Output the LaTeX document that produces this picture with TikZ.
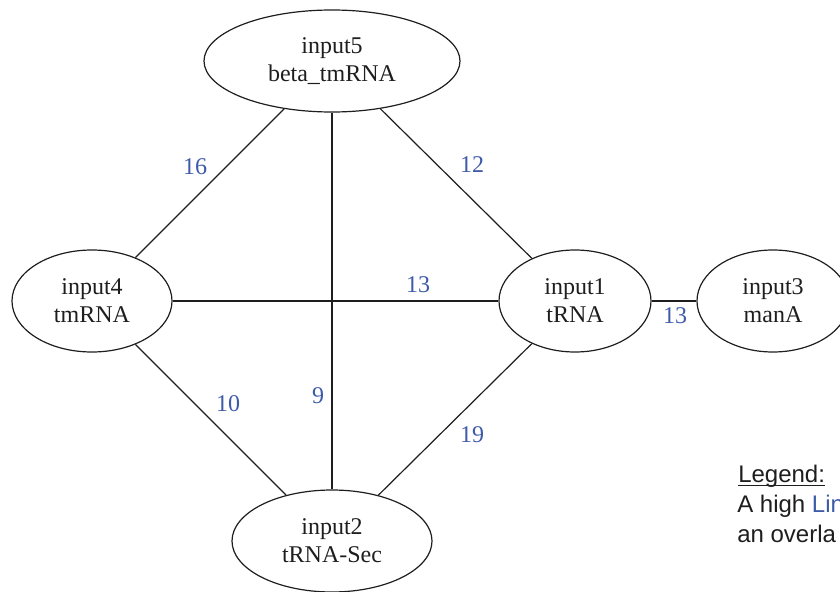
\documentclass[tikz,border=0pt]{standalone}
\usepackage{fontspec}
\setmainfont{Liberation Serif}
\newfontfamily\legendfont{Liberation Sans}
\usetikzlibrary{shapes.geometric}
\definecolor{lblblue}{RGB}{61,91,169}
\definecolor{ink}{RGB}{30,30,30}
\newcommand{\legul}[1]{\tikz[baseline=(w.base)]{\node[inner sep=0pt] (w) {#1};\draw[ink,line width=1.1pt] ([yshift=-2.2pt]w.base west) -- ([yshift=-2.2pt]w.base east);}}
\begin{document}
\begin{tikzpicture}[x=0.75pt,y=-0.75pt,
  nd/.style={ellipse,draw=ink,line width=0.9pt,inner sep=0pt,align=center,
    font=\fontsize{18pt}{21pt}\selectfont,text=ink},
  edge/.style={draw=ink,line width=0.9pt},
  lbl/.style={text=lblblue,font=\fontsize{18pt}{21pt}\selectfont,inner sep=0pt}]
\useasboundingbox (0,0) rectangle (840,592);
\clip (0,0) rectangle (840,592);
\node[nd,minimum width=256*0.75pt,minimum height=102*0.75pt] (n5) at (332,61) {input5\\beta\_tmRNA};
\node[nd,minimum width=160*0.75pt,minimum height=102*0.75pt] (n4) at (92,301) {input4\\tmRNA};
\node[nd,minimum width=152*0.75pt,minimum height=102*0.75pt] (n1) at (575,301) {input1\\tRNA};
\node[nd,minimum width=152*0.75pt,minimum height=102*0.75pt] (n3) at (773,301) {input3\\manA};
\node[nd,minimum width=200*0.75pt,minimum height=102*0.75pt] (n2) at (332,541) {input2\\tRNA-Sec};
\draw[edge] (n5) -- (n4);
\draw[edge] (n5) -- (n1);
\draw[edge] (n5) -- (n2);
\draw[edge] (n4) -- (n1);
\draw[edge] (n4) -- (n2);
\draw[edge] (n1) -- (n2);
\draw[edge] (n1) -- (n3);
\node[lbl] (l16) at (195,167) {16};
\node[lbl] (l12) at (472,165) {12};
\node[lbl] (l9) at (318,396) {9};
\node[lbl] (l13a) at (418,285) {13};
\node[lbl] (l10) at (228,404) {10};
\node[lbl] (l19) at (472,435) {19};
\node[lbl] (l13b) at (675,316) {13};
\node[anchor=north west,inner sep=0pt,align=left,text=ink,
  font=\legendfont\fontsize{18pt}{22.5pt}\selectfont] (legend) at (737,465)
  {\legul{Legend:}\\A high \textcolor{lblblue}{Link}\\an overla};
\end{tikzpicture}
\end{document}
